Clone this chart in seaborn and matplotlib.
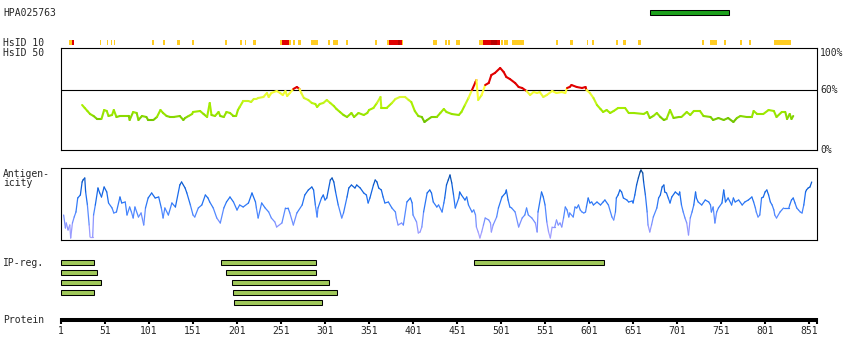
import numpy as np
import matplotlib
matplotlib.use("Agg")
import matplotlib.pyplot as plt
from matplotlib.collections import LineCollection
import seaborn as sns

# ---- data ----
ANTIGEN_ID = "HPA025763"
antigen_start, antigen_end = 670, 760

# HsID 10 blocks (residue ranges) and level: 0 = orange, 1 = red, 2 = dark red
hsid10_start = [10, 13.5, 45, 53, 58, 61, 104, 117, 133, 150, 187, 204, 210, 219,
                250, 252, 260, 265, 270, 285, 304, 310, 325, 358,
                371.5, 373.7, 383.9, 386.2, 388.5, 424, 437, 441, 450,
                476, 480.5, 489.6, 496.5, 501, 504.4, 513.5, 563.5, 579.4,
                598.7, 604.4, 631.7, 639.6, 656.7, 729.4, 738.5, 754.4,
                772.6, 782.8, 811.2]
hsid10_end = [13.5, 16, 46.5, 54.5, 59, 62.5, 106.7, 119.2, 136.2, 152.1, 189.6, 206.7, 211.2, 222.6,
              252, 260, 262.4, 267, 273.7, 293, 306.7, 315.8, 327.1, 360.1,
              373.7, 383.9, 386.2, 388.5, 389.6, 428.3, 439.6, 443, 454.4,
              480.5, 489.6, 496.5, 499.9, 503.3, 509, 527.1, 565.8, 582.8,
              599.9, 606.7, 633.9, 643, 660.1, 731.7, 746.5, 756.7,
              774.9, 785.1, 830.5]
hsid10_level = [0, 1, 0, 0, 0, 0, 0, 0, 0, 0, 0, 0, 0, 0,
                0, 1, 0, 0, 0, 0, 0, 0, 0, 0,
                0, 1, 2, 1, 0, 0, 0, 0, 0,
                0, 1, 2, 1, 0, 0, 0, 0, 0,
                0, 0, 0, 0, 0, 0, 0, 0,
                0, 0, 0]

# HsID 50 conservation (%)
cons_res = [25, 28, 31, 34, 38, 42, 47, 50, 53, 55, 59, 61, 64, 68, 78, 79, 83, 87, 89, 93,
            98, 100, 106, 110, 114, 117, 121, 125, 129, 136, 140, 142, 146, 150, 151, 159, 163,
            167, 170, 172, 176, 180, 182, 186, 189, 193, 197, 200, 202, 204, 208, 214, 217,
            220, 223, 225, 231, 235, 237, 240, 246, 250, 253, 256, 258, 261, 265, 269, 272,
            274, 277, 282, 286, 290, 292, 295, 299, 303, 307, 311, 314, 318, 322, 326, 331,
            334, 339, 345, 349, 351, 356, 360, 364, 365, 371, 377, 381, 386, 392, 396, 399,
            403, 407, 411, 414, 417, 422, 428, 432, 436, 439, 445, 453, 456, 460, 464, 468,
            472, 473, 475, 479, 483, 487, 490, 494, 500, 504, 507, 511, 517, 521, 525, 530,
            534, 538, 542, 545, 549, 553, 559, 564, 570, 574, 576, 579, 581, 587, 593, 597,
            598, 602, 606, 610, 614, 617, 621, 625, 629, 634, 642, 646, 652, 663, 667, 670,
            674, 678, 682, 686, 689, 693, 697, 703, 706, 712, 716, 720, 727, 731, 739, 742,
            748, 754, 759, 765, 769, 773, 780, 786, 788, 792, 799, 805, 811, 814, 820, 824,
            826, 829, 831, 833]
cons_val = [45, 42, 39, 36, 34, 31, 31, 40, 39, 34, 35, 40, 33, 34, 34, 30, 38, 37, 30, 34,
            33, 30, 30, 33, 40, 37, 34, 33, 33, 34, 30, 32, 34, 36, 38, 39, 36,
            33, 47, 35, 34, 38, 34, 33, 38, 37, 34, 34, 40, 43, 49, 49, 48,
            51, 51, 52, 53, 57, 53, 57, 59, 57, 55, 59, 54, 57, 61, 63, 61,
            57, 52, 50, 47, 46, 43, 46, 47, 50, 47, 44, 41, 38, 35, 33, 37,
            33, 37, 35, 37, 40, 42, 47, 53, 42, 42, 47, 51, 53, 53, 50, 48,
            39, 34, 33, 28, 30, 33, 33, 37, 41, 38, 36, 35, 38, 45, 52, 60,
            68, 70, 50, 55, 65, 67, 75, 77, 82, 78, 73, 71, 67, 63, 62, 59,
            55, 58, 57, 58, 53, 55, 59, 57, 58, 57, 62, 63, 65, 63, 62, 63,
            60, 57, 52, 45, 41, 38, 40, 37, 39, 42, 42, 37, 37, 36, 38, 32,
            34, 37, 33, 30, 31, 40, 32, 33, 33, 38, 35, 39, 39, 34, 33, 30,
            32, 30, 32, 28, 32, 34, 33, 33, 39, 36, 36, 40, 39, 33, 38, 38,
            31, 36, 31, 34]

# Antigenicity (arbitrary units)
anti_res = [4, 6, 7, 9, 11, 12, 14, 16, 18, 20, 23, 25, 26, 28, 29, 31, 33, 34, 37, 38, 40,
            43, 45, 47, 50, 53, 55, 59, 61, 64, 68, 70, 74, 76, 79, 81, 83, 85, 89, 92, 95,
            97, 100, 104, 108, 112, 115, 117, 119, 123, 127, 131, 136, 138, 142, 144, 148,
            151, 153, 157, 161, 165, 168, 170, 174, 178, 182, 186, 189, 193, 197, 201, 204,
            208, 214, 218, 222, 223, 225, 229, 233, 237, 240, 244, 246, 252, 256, 259, 261,
            265, 269, 275, 278, 282, 286, 288, 290, 292, 293, 297, 299, 301, 303, 307, 309,
            311, 313, 316, 320, 322, 326, 328, 331, 335, 337, 341, 345, 348, 350, 352, 356,
            358, 360, 362, 365, 367, 369, 373, 377, 381, 382, 384, 388, 390, 394, 398, 400,
            401, 405, 407, 409, 411, 413, 417, 420, 422, 424, 428, 430, 434, 436, 437, 439,
            441, 443, 445, 447, 449, 453, 454, 456, 460, 462, 464, 468, 470, 472, 473, 475,
            477, 479, 481, 483, 487, 489, 490, 492, 496, 498, 502, 506, 507, 509, 511, 513,
            517, 521, 525, 528, 530, 532, 536, 540, 542, 543, 547, 549, 551, 553, 555, 557,
            559, 562, 564, 566, 568, 570, 572, 574, 576, 578, 579, 583, 585, 587, 589, 591,
            593, 595, 597, 598, 600, 602, 604, 606, 610, 614, 617, 619, 623, 627, 629, 631,
            632, 634, 636, 638, 640, 644, 646, 650, 651, 653, 655, 657, 659, 660, 662, 663,
            665, 667, 668, 670, 672, 674, 678, 680, 682, 684, 686, 687, 689, 691, 693, 695,
            699, 703, 704, 706, 708, 710, 712, 714, 716, 718, 720, 722, 723, 725, 729, 733,
            737, 739, 740, 742, 744, 746, 748, 752, 754, 756, 759, 763, 765, 767, 771, 775,
            778, 782, 786, 788, 790, 791, 793, 795, 797, 799, 801, 803, 805, 807, 809, 811,
            812, 814, 818, 822, 828, 829, 831, 833, 835, 837, 839, 841, 843, 845, 847, 848,
            850, 852, 854]
anti_val = [25, 12, 17, 10, 15, 2, 17, 23, 28, 42, 45, 58, 60, 62, 48, 35, 15, 3, 3, 25, 35,
            52, 47, 43, 53, 48, 37, 32, 27, 28, 43, 37, 38, 25, 33, 28, 22, 33, 23, 27, 15,
            32, 42, 47, 42, 43, 32, 22, 32, 25, 37, 33, 55, 58, 52, 47, 35,
            25, 23, 32, 35, 45, 42, 38, 32, 22, 17, 32, 38, 43, 38, 30, 35,
            33, 37, 47, 38, 32, 22, 37, 32, 28, 22, 18, 13, 17, 32, 32, 27,
            15, 27, 35, 45, 50, 53, 50, 35, 23, 32, 42, 45, 40, 42, 60, 62,
            58, 48, 35, 22, 27, 43, 52, 55, 52, 55, 52, 47, 45, 37, 42, 55,
            60, 58, 52, 50, 43, 37, 38, 32, 28, 22, 15, 17, 15, 38, 42, 37,
            25, 18, 7, 8, 13, 28, 47, 50, 47, 38, 33, 35, 28, 37, 42, 55,
            60, 65, 57, 45, 32, 42, 48, 45, 40, 43, 35, 28, 30, 25, 13, 8,
            2, 8, 15, 22, 20, 17, 8, 15, 23, 32, 43, 47, 50, 40, 33, 32,
            28, 13, 22, 25, 32, 25, 22, 17, 8, 28, 48, 43, 35, 18, 8, 2,
            13, 13, 20, 15, 17, 13, 22, 33, 30, 23, 27, 23, 33, 32, 35, 30,
            28, 27, 28, 33, 42, 37, 38, 35, 38, 35, 38, 40, 35, 23, 20, 28,
            42, 45, 50, 48, 42, 40, 38, 39, 37, 45, 55, 62, 68, 70, 67, 58,
            45, 28, 15, 8, 15, 23, 32, 42, 45, 53, 55, 48, 47, 42, 37, 43,
            48, 45, 48, 35, 28, 22, 17, 5, 22, 28, 35, 48, 42, 38, 35, 40,
            38, 35, 28, 33, 17, 28, 32, 37, 50, 38, 42, 35, 42, 38, 40, 35,
            38, 40, 43, 38, 32, 28, 23, 25, 42, 43, 48, 50, 45, 38, 35, 30,
            25, 22, 28, 32, 32, 35, 40, 42, 37, 32, 30, 28, 27, 35, 48, 50,
            52, 53, 58]

# IP-reg. regions
ip_start = [1, 183, 470, 1, 188, 1, 195, 1, 196, 198]
ip_end = [39, 291, 618, 42, 291, 47, 306, 39, 315, 298]
ip_row = [0, 0, 0, 1, 1, 2, 2, 3, 3, 4]

protein_ticks = list(range(1, 852, 50))
protein_len = 860

# ---- layout (pixels of the 850x360 picture) ----
W, H = 850, 360
X0, X1 = 61, 817          # first / last residue columns
PX = (X1 - X0) / (protein_len - 1)
FS = 7


def fx(px):
    return px / W


def fy(py):
    return 1 - py / H


def colored_line(ax, x, y, colors, lw):
    pts = np.column_stack([x, y])
    segs = np.stack([pts[:-1], pts[1:]], axis=1)
    lc = LineCollection(segs, colors=colors, linewidths=lw, capstyle='round',
                        joinstyle='round')
    ax.add_collection(lc)


def panel(bottom, top):
    ax = fig.add_axes([fx(X0), fy(bottom), fx(X1) - fx(X0), (bottom - top) / H])
    ax.set_xlim(1, protein_len)
    ax.set_xticks([])
    ax.set_yticks([])
    for s in ax.spines.values():
        s.set_color('black')
        s.set_linewidth(0.8)
        s.set_visible(True)
    return ax


sns.set_style("white")
plt.rcParams['font.family'] = ['DejaVu Sans Mono', 'DejaVu Sans']

fig = plt.figure(figsize=(W / 100, H / 100), dpi=100)
track = fig.add_axes([0, 0, 1, 1])
track.set_xlim(1 - X0 / PX, 1 + (W - X0) / PX)
track.set_ylim(H, 0)
track.axis('off')

# antigen bar
track.barh(12.5, antigen_end - antigen_start, left=antigen_start, height=4.4,
           color='#1ca01c', edgecolor='black', linewidth=0.75)

# HsID 10 blocks
lvl_colors = ['#ffcc22', '#e00000', '#b80000']
track.barh([42.4] * len(hsid10_start), np.array(hsid10_end) - np.array(hsid10_start),
           left=hsid10_start, height=4.6, color=[lvl_colors[l] for l in hsid10_level],
           linewidth=0)

# IP-reg bars
track.barh(262.4 + 10 * np.array(ip_row), np.array(ip_end) - np.array(ip_start),
           left=ip_start, height=4.4, color='#a0c85a', edgecolor='black', linewidth=0.75)

# protein axis
track.hlines(319.7, 1, protein_len, color='black', linewidth=2.9)
track.vlines(protein_ticks + [protein_len], 318, 324, color='black', linewidth=1.5)
for t in protein_ticks:
    track.text(t, 331.5, str(t), ha='center', va='center', fontsize=FS)

# HsID 50 conservation panel
cons_ax = panel(150, 48)
cons_ax.set_ylim(0, 102)
cons_ax.axhline(60, color='black', linewidth=0.8)
cons_cmap = sns.blend_palette(['#66bb00', '#99e600', '#aaf000', '#d8f830', '#ffff33'],
                              as_cmap=True)
cv = np.array(cons_val, dtype=float)
mid = (cv[:-1] + cv[1:]) / 2
ccol = [('#e00000' if m > 60 else cons_cmap(np.clip((m - 28) / 32, 0, 1))) for m in mid]
colored_line(cons_ax, cons_res, cv, ccol, 1.5)

# antigenicity panel
anti_ax = panel(240, 168)
anti_ax.set_ylim(0, 72)
anti_cmap = sns.blend_palette(['#b4aaff', '#8c94ff', '#4c88ff', '#1c6ef0', '#0a5ad0',
                               '#0a4890'], as_cmap=True)
av = np.array(anti_val, dtype=float)
amid = (av[:-1] + av[1:]) / 2
acol = [anti_cmap(np.clip(m / 70, 0, 1)) for m in amid]
colored_line(anti_ax, anti_res, av, acol, 0.9)

# labels
fig.text(fx(3), fy(12.7), ANTIGEN_ID, fontsize=FS, va='center')
fig.text(fx(3), fy(42.5), "HsID 10", fontsize=FS, va='center')
fig.text(fx(3), fy(52.5), "HsID 50", fontsize=FS, va='center')
fig.text(fx(3), fy(173.5), "Antigen-", fontsize=FS, va='center')
fig.text(fx(3), fy(183.5), "icity", fontsize=FS, va='center')
fig.text(fx(3), fy(263), "IP-reg.", fontsize=FS, va='center')
fig.text(fx(3), fy(320), "Protein", fontsize=FS, va='center')
fig.text(fx(820), fy(52.7), "100%", fontsize=FS, va='center')
fig.text(fx(820), fy(90.3), "60%", fontsize=FS, va='center')
fig.text(fx(820), fy(150), "0%", fontsize=FS, va='center')

fig.savefig('out.png', dpi=100)
